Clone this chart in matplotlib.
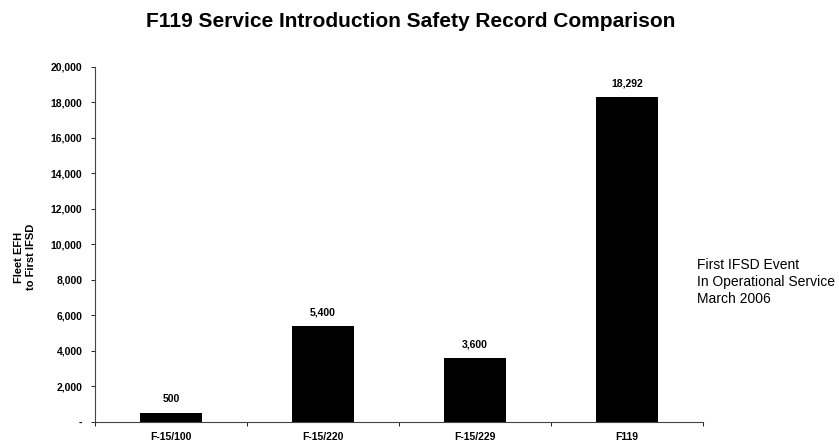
import matplotlib.pyplot as plt
from matplotlib.ticker import FuncFormatter

# Data
engines = ['F-15/100', 'F-15/220', 'F-15/229', 'F119']
efh = [500, 5400, 3600, 18292]
y_ticks = [0, 2000, 4000, 6000, 8000, 10000, 12000, 14000, 16000, 18000, 20000]

plt.rcParams['font.family'] = ['Liberation Sans', 'DejaVu Sans']

fig = plt.figure(figsize=(8.39, 4.45), dpi=100)
ax = fig.add_axes([0.1132, 0.0517, 0.7247, 0.798])

x = range(len(engines))
ax.bar(x, efh, width=0.41, color='black')

# value labels above bars
for xi, v in zip(x, efh):
    ax.text(xi, v + 500, f'{v:,}', ha='center', va='bottom', fontsize=7.5, fontweight='bold')

ax.set_xlim(-0.5, len(engines) - 0.5)
ax.set_ylim(0, 20000)
ax.set_yticks(y_ticks)
ax.yaxis.set_major_formatter(FuncFormatter(lambda v, p: '-' if v == 0 else f'{int(v):,}'))
ax.set_xticks(list(x))
ax.set_xticklabels(engines)
ax.set_xticks([i + 0.5 for i in range(-1, len(engines))], minor=True)

ax.tick_params(axis='y', labelsize=7.5, length=3, width=0.6, pad=6)
ax.tick_params(axis='x', which='major', labelsize=7.5, length=0, pad=7)
ax.tick_params(axis='x', which='minor', length=3, width=0.6)
for lbl in ax.get_xticklabels() + ax.get_yticklabels():
    lbl.set_fontweight('bold')

for s in ['top', 'right']:
    ax.spines[s].set_visible(False)
ax.spines['left'].set_color('#444444')
ax.spines['left'].set_linewidth(0.8)
ax.spines['bottom'].set_color('#444444')
ax.spines['bottom'].set_linewidth(0.8)

fig.text(0.030, 0.422, 'Fleet EFH\nto First IFSD', rotation=90, fontsize=8,
         fontweight='bold', ha='center', va='center', linespacing=1.25)

fig.text(0.49, 0.952, 'F119 Service Introduction Safety Record Comparison',
         ha='center', va='center', fontsize=15, fontweight='bold')

fig.text(0.831, 0.366, 'First IFSD Event\nIn Operational Service\nMarch 2006',
         fontsize=10, ha='left', va='center', linespacing=1.3)

fig.savefig('out.png', dpi=100)
